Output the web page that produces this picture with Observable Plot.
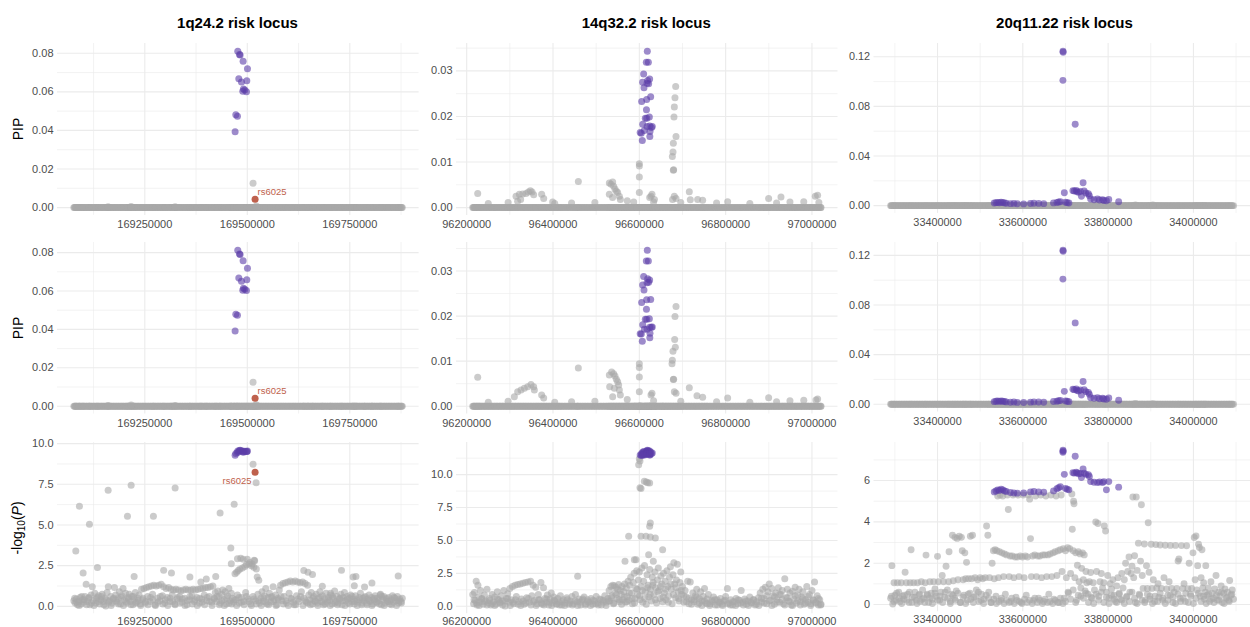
<!DOCTYPE html>
<html>
<head>
<meta charset="utf-8">
<script src="https://cdn.jsdelivr.net/npm/d3@7"></script>
<script src="https://cdn.jsdelivr.net/npm/@observablehq/plot@0.6"></script>
<style>
  html, body { margin: 0; padding: 0; background: #fff; }
  body { width: 1250px; height: 627px; overflow: hidden; font-family: "Liberation Sans", Arial, sans-serif; }
  #root { position: relative; width: 1250px; height: 627px; overflow: hidden; }
  .panel { position: absolute; }
  .panel svg { overflow: visible; }
  .title { position: absolute; font-weight: bold; font-size: 15px; color: #000; white-space: nowrap; transform: translate(-50%, -50%); }
  .ylab { position: absolute; font-size: 14px; color: #000; white-space: nowrap; transform: translate(-50%, -50%) rotate(-90deg); }
  .ylab sub { font-size: 10px; vertical-align: -3px; }
</style>
</head>
<body>
<div id="root"></div>
<script>
// ================= DATA (positions in kb, converted to bp when plotting) =================
const rowLabels = ["PIP", "PIP", "-log10(P)"];

// ---------- 1q24.2 ----------
const locus1Title = "1q24.2 risk locus";
const locus1XDomain = [169037100, 169919000];
const locus1XTicks = [169250000, 169500000, 169750000];
const locus1YTicksPip = [0, 0.02, 0.04, 0.06, 0.08];
const locus1YTicksP = [0, 2.5, 5, 7.5, 10];
// SNPs outside the credible set: [kb, -log10(P)]
const locus1Snps = [
[169077,0.35],[169080,0.2],[169083,0.45],[169086,0.1],[169089,0.3],[169092,0.55],[169095,0.15],[169098,0.4],[169101,0.25],[169104,0.6],
[169107,1.35],[169110,0.3],[169113,0.5],[169116,0.1],[169119,0.7],[169122,1.2],[169125,0.35],[169128,0.8],[169131,0.2],[169134,0.55],
[169137,0.65],[169140,0.15],[169143,0.4],[169146,0.75],[169149,0.3],[169152,0.5],[169155,0.02],[169158,0.85],[169161,1.2],[169164,0.35],
[169167,0.6],[169170,0.2],[169173,0.45],[169176,1.15],[169179,0.7],[169182,0.25],[169185,0.5],[169188,0.9],[169191,0.15],[169194,0.65],
[169197,1.1],[169200,0.4],[169203,0.8],[169206,0.2],[169209,0.55],[169212,0.75],[169215,0.3],[169218,0.6],[169221,0.1],[169224,0.45],
[169227,0.85],[169230,0.25],[169233,0.5],[169236,0.7],[169239,0.15],
[169242,1.05],[169245,0.4],[169248,1.1],[169251,0.2],[169254,1.15],[169257,0.6],[169260,1.2],[169263,0.3],[169266,1.25],[169269,0.75],
[169272,1.3],[169275,0.1],[169278,1.25],[169281,0.5],[169284,1.3],[169287,0.35],[169290,1.35],[169293,0.65],[169296,1.2],[169299,0.2],
[169302,1.1],[169305,0.55],[169308,1.15],[169311,0.3],[169314,1.05],[169317,0.7],[169320,1.0],[169323,0.15],[169326,1.05],[169329,0.45],
[169332,1.0],[169335,0.6],[169338,0.95],[169341,0.25],[169344,1.0],[169347,0.5],[169350,1.05],[169353,0.1],[169356,1.0],[169359,0.4],
[169362,1.0],[169365,0.65],[169368,1.05],[169371,0.3],[169374,1.0],[169377,0.55],[169380,1.05],[169383,0.2],[169386,1.1],[169389,0.45],
[169392,1.1],[169395,0.7],[169398,1.15],[169401,0.35],[169404,1.15],[169407,0.6],[169410,1.2],[169413,0.25],[169416,1.25],[169419,0.5],
[169422,0.85],[169425,0.3],[169428,0.95],[169431,0.6],[169434,0.2],[169437,0.75],[169440,1.0],[169443,0.4],[169446,0.9],[169449,0.15],
[169452,0.65],[169455,1.1],[169458,0.35],[169461,0.8],[169464,0.5],[169467,0.25],
[169470,2.0],[169472,0.4],[169474,2.1],[169476,0.7],[169478,2.2],[169480,0.2],[169482,2.3],[169484,2.95],[169486,0.55],[169488,2.35],
[169490,2.9],[169492,0.3],[169494,2.45],[169496,0.85],[169498,2.55],[169500,2.9],[169502,0.45],[169504,2.6],[169506,2.7],[169508,0.15],
[169510,2.5],[169512,2.6],[169514,0.6],[169516,2.4],[169518,2.8],[169520,0.35],[169522,2.3],[169524,1.8],[169526,0.75],[169528,1.6],[169530,0.2],
[169533,0.5],[169536,0.9],[169539,0.3],[169542,0.65],[169545,1.1],[169548,0.15],[169551,0.55],[169554,0.8],[169557,0.25],[169560,0.6],
[169563,1.2],[169566,0.4],[169569,0.7],[169572,0.1],[169575,0.5],[169578,1.0],
[169581,1.3],[169584,0.35],[169587,1.4],[169590,0.6],[169593,1.45],[169596,0.2],[169599,1.5],[169602,0.8],[169605,1.55],[169608,0.45],
[169611,1.5],[169614,0.1],[169617,1.55],[169620,0.65],[169623,1.5],[169626,0.3],[169629,1.45],[169632,0.9],[169635,1.5],[169638,0.5],
[169641,1.4],[169644,0.25],[169647,1.3],[169650,0.7],
[169653,0.4],[169656,0.85],[169659,0.15],[169662,0.6],[169665,0.35],[169668,0.75],[169671,0.2],[169674,0.5],[169677,0.9],[169680,0.3],
[169683,0.65],[169686,0.1],[169689,0.45],[169692,0.8],[169695,0.25],[169698,0.55],[169701,0.35],[169704,0.7],[169707,0.15],[169710,0.5],
[169713,0.95],[169716,0.3],[169719,0.6],[169722,0.2],[169725,0.45],[169728,0.75],[169731,0.1],[169734,0.55],[169737,0.85],[169740,0.35],
[169743,0.6],[169746,0.2],[169749,0.5],[169752,0.7],[169755,0.3],[169758,0.45],[169761,0.15],[169764,0.65],[169767,0.4],[169770,0.25],
[169773,0.55],[169776,0.8],[169779,0.1],[169782,0.5],[169785,0.35],[169788,0.6],[169791,0.2],[169794,0.45],[169797,0.7],[169800,0.3],
[169803,0.55],[169806,0.15],[169809,0.4],[169812,0.65],[169815,0.25],[169818,0.5],[169821,0.35],[169824,0.7],[169827,0.1],[169830,0.45],
[169833,0.6],[169836,0.2],[169839,0.5],[169842,0.3],[169845,0.55],[169848,0.15],[169851,0.4],[169854,0.65],[169857,0.25],[169860,0.5],
[169863,0.35],[169866,0.6],[169869,0.2],[169872,0.45],[169875,0.3],[169878,0.5],
[169081.7,3.4],[169090.6,6.15],[169099.6,2.05],[169115,5.04],[169134.5,2.38],[169160.6,7.13],[169207.7,5.53],[169216.7,7.44],[169224,1.84],
[169271,5.53],[169296,2.21],[169315,2.05],[169324,7.27],[169360,1.8],[169386.6,1.5],[169400,1.68],[169423,1.84],[169433.7,5.74],
[169459.8,3.59],[169468,6.27],[169461,2.62],[169476,2.93],[169516.7,2.83],[169514,8.73],[169521.5,7.6],[169637.8,2.2],[169648,2.1],[169659,1.95],
[169683,1.23],[169703,0.8],[169729.7,2.21],[169758,1.8],[169765,1.84],[169761,1.27],[169786,1.19],[169804,1.43],[169825,0.74],[169868,1.86]
];
// further weakly associated SNPs of the dense lower band: [kb, -log10(P)]
const locus1SnpsLow = [
[169079,0.5],[169084,0.25],[169090,0.05],[169096,0.6],[169102,0.4],[169108,0.1],[169114,0.55],[169120,0.2],[169126,0.05],[169132,0.45],
[169138,0.3],[169144,0.6],[169150,0.1],[169156,0.4],[169162,0.25],[169168,0.05],[169174,0.5],[169180,0.35],[169186,0.15],[169192,0.55],
[169198,0.05],[169204,0.3],[169210,0.45],[169216,0.1],[169222,0.6],[169228,0.2],[169234,0.35],[169240,0.05],[169246,0.5],[169252,0.3],
[169258,0.1],[169264,0.55],[169270,0.4],[169276,0.05],[169282,0.25],[169288,0.6],[169294,0.15],[169300,0.4],[169306,0.05],[169312,0.5],
[169318,0.3],[169324,0.1],[169330,0.55],[169336,0.2],[169342,0.45],[169348,0.05],[169354,0.35],[169360,0.6],[169366,0.15],[169372,0.4],
[169378,0.05],[169384,0.5],[169390,0.25],[169396,0.1],[169402,0.55],[169408,0.3],[169414,0.05],[169420,0.45],[169426,0.6],[169432,0.1],
[169438,0.35],[169444,0.05],[169450,0.5],[169456,0.2],[169462,0.15],[169468,0.4],[169474,0.05],[169480,0.55],[169486,0.25],[169492,0.1],
[169498,0.6],[169504,0.3],[169510,0.05],[169516,0.45],[169522,0.15],[169528,0.35],[169534,0.05],[169540,0.5],[169546,0.25],[169552,0.1],
[169558,0.55],[169564,0.3],[169570,0.05],[169576,0.4],[169582,0.6],[169588,0.15],[169594,0.35],[169600,0.05],[169606,0.5],[169612,0.25],
[169618,0.1],[169624,0.45],[169630,0.6],[169636,0.05],[169642,0.35],[169648,0.2],[169654,0.1],[169660,0.5],[169666,0.3],[169672,0.05],
[169678,0.55],[169684,0.25],[169690,0.15],[169696,0.4],[169702,0.05],[169708,0.6],[169714,0.2],[169720,0.1],[169726,0.5],[169732,0.35],
[169738,0.05],[169744,0.45],[169750,0.15],[169756,0.6],[169762,0.3],[169768,0.05],[169774,0.4],[169780,0.2],[169786,0.55],[169792,0.1],
[169798,0.35],[169804,0.05],[169810,0.5],[169816,0.25],[169822,0.15],[169828,0.6],[169834,0.05],[169840,0.4],[169846,0.3],[169852,0.1],
[169858,0.55],[169864,0.05],[169870,0.35],[169876,0.2]
];
// non-zero PIPs of SNPs outside the credible set: [kb, PIP]
const locus1PipA = [[169514,0.0126],[169160.6,0.0004],[169216.7,0.0006],[169324,0.0004],[169522,0.0008]];
const locus1PipB = [[169514,0.0125],[169160.6,0.0004],[169216.7,0.0006],[169324,0.0004],[169522,0.0008]];
// credible-set SNPs
const locus1CsPos  = [169476.8,169481.0,169482.5,169489.8,169500.4,169479.3,169485.8,169498.8,169490.6,169493.9,169489.0,169498.0,169472.0,169476.0,169470.3];
const locus1CsPipA = [0.0810,0.0793,0.0791,0.0758,0.0719,0.0668,0.0651,0.0658,0.0615,0.0610,0.0603,0.0601,0.0481,0.0474,0.0393];
const locus1CsPipB = [0.0812,0.0793,0.0790,0.0758,0.0718,0.0668,0.0651,0.0659,0.0614,0.0609,0.0604,0.0602,0.0479,0.0474,0.0392];
const locus1CsLogP = [9.55,9.58,9.59,9.53,9.55,9.50,9.56,9.52,9.47,9.53,9.50,9.52,9.40,9.45,9.28];
// highlighted variant
const locus1LeadName = "rs6025";
const locus1LeadKb = 169519;
const locus1LeadVals = [0.0043, 0.0041, 8.24]; // PIP A, PIP B, -log10(P)

// ---------- 14q32.2 ----------
const locus2Title = "14q32.2 risk locus";
const locus2XDomain = [96176400, 97060300];
const locus2XTicks = [96200000, 96400000, 96600000, 96800000, 97000000];
const locus2YTicksPip = [0, 0.01, 0.02, 0.03];
const locus2YTicksP = [0, 2.5, 5, 7.5, 10];
const locus2Snps = [
[96214,0.9],[96216,0.2],[96218,1.05],[96220,0.45],[96222,1.9],[96224,0.1],[96226,1.6],[96228,0.7],[96230,0.3],[96232,1.2],
[96235,0.55],[96238,0.15],[96241,0.85],[96244,0.4],[96247,1.3],[96250,0.25],[96253,0.6],[96256,0.1],[96259,0.9],
[96262,0.35],[96265,0.7],[96268,0.15],[96271,1.1],[96274,0.5],[96277,0.25],[96280,0.8],[96283,0.4],[96286,1.2],[96289,0.02],
[96292,0.6],[96295,0.95],[96298,0.3],
[96300,1.35],[96303,0.5],[96306,1.5],[96309,0.2],[96312,1.6],[96315,0.75],[96318,1.65],[96321,0.35],[96324,1.7],[96327,0.55],
[96330,1.75],[96333,0.15],[96336,1.8],[96339,0.65],[96342,1.85],[96345,0.3],[96348,1.9],[96351,0.8],[96354,1.6],[96357,0.45],[96360,1.45],
[96363,0.2],[96366,0.9],[96369,0.5],[96372,1.8],[96375,0.15],[96378,1.4],[96381,0.6],[96384,0.3],[96387,0.85],[96390,0.1],
[96393,0.55],[96396,1.0],[96399,0.25],[96402,0.7],[96405,0.4],[96408,0.15],[96411,0.6],[96414,0.3],[96417,0.8],
[96420,0.1],[96424,0.5],[96428,0.25],[96432,0.65],[96436,0.15],[96440,0.4],[96444,0.75],[96448,0.2],[96452,0.9],[96456,0.35],
[96460,0.55],[96464,0.1],[96468,0.45],[96472,0.7],[96476,0.2],[96480,0.5],[96484,0.3],[96488,0.6],[96492,0.15],[96496,0.4],
[96500,0.75],[96504,0.25],[96508,0.55],[96512,0.1],[96516,0.45],[96520,0.8],[96524,0.3],[96527,0.6],
[96530,1.2],[96532,0.4],[96534,1.5],[96536,0.8],[96538,1.6],[96540,0.2],[96542,1.55],[96544,1.0],[96546,1.45],[96548,0.6],
[96550,1.3],[96552,1.65],[96554,0.35],[96556,1.2],[96558,0.9],[96560,1.5],[96562,0.5],[96564,1.1],[96566,1.7],[96568,0.3],
[96570,1.4],[96572,0.75],[96574,1.9],[96576,0.45],[96578,1.6],[96580,2.2],[96582,1.0],[96584,0.2],[96586,1.8],[96588,2.5],
[96590,0.6],[96592,1.35],[96594,2.7],[96596,0.9],[96598,2.0],
[96600,2.6],[96602,0.5],[96604,1.5],[96606,2.9],[96608,0.3],[96610,1.9],[96612,3.1],[96614,1.1],[96616,0.15],[96618,2.4],
[96620,1.6],[96622,0.7],[96624,2.8],[96626,1.3],[96628,0.4],[96630,2.2],[96632,1.8],[96634,0.9],[96636,2.6],[96638,1.4],
[96640,0.25],[96642,2.0],[96644,2.9],[96646,1.2],[96648,0.6],[96650,2.3],[96652,1.7],[96654,0.35],[96656,2.5],[96658,1.0],
[96660,1.9],[96662,0.5],[96664,2.7],[96666,1.5],[96668,0.8],[96670,2.2],[96672,3.0],[96674,1.3],[96676,0.2],[96678,2.4],
[96680,3.3],[96682,1.7],[96684,0.65],[96686,2.0],[96688,3.2],[96690,1.1],[96692,0.4],[96694,1.8],[96696,2.6],[96698,0.9],
[96700,1.5],[96703,0.3],[96706,1.2],[96709,0.7],[96712,1.9],[96715,0.2],[96718,1.85],[96721,0.5],[96724,1.0],[96727,0.35],
[96730,0.8],[96733,1.3],[96736,0.15],[96739,0.6],[96742,1.1],[96745,0.4],[96748,0.75],[96751,1.35],[96754,0.25],[96757,0.55],
[96760,0.9],[96764,0.2],[96768,0.45],[96772,0.7],[96776,0.1],[96780,0.5],[96784,0.3],[96788,0.6],[96792,0.15],[96796,0.4],
[96800,0.75],[96804,1.35],[96808,0.25],[96812,0.5],[96816,0.1],[96820,0.35],[96824,0.6],[96828,0.2],[96832,0.45],[96836,1.2],
[96840,0.3],[96844,0.55],[96848,0.15],[96852,0.4],[96856,0.7],[96860,0.25],[96864,0.5],[96868,0.1],[96872,0.35],[96876,0.65],
[96880,1.0],[96883,0.3],[96886,1.3],[96889,0.6],[96892,1.45],[96895,0.2],[96898,1.1],[96901,1.7],[96904,0.45],[96907,1.35],
[96910,0.8],[96913,0.15],[96916,1.0],[96919,0.5],[96922,1.4],[96925,0.3],[96928,0.9],[96931,1.2],[96934,0.2],[96937,2.1],
[96940,0.65],[96943,1.3],[96946,0.4],[96949,1.0],[96952,0.1],[96955,1.15],[96958,0.55],[96961,1.45],[96964,0.25],[96967,0.85],
[96970,1.3],[96973,0.35],[96976,0.7],[96979,1.1],[96982,0.15],[96985,0.5],[96988,1.5],[96991,0.3],[96994,0.9],[96997,0.2],
[97000,1.2],[97003,0.45],[97006,1.85],[97009,0.25],[97012,0.8],[97015,0.1],[97018,0.5],[97021,0.15],
[96600,11.2],[96598.5,10.76],[96601.5,11.04],[96601.5,9.0],[96603.9,8.94],[96611.6,9.49],[96616.2,9.44],[96619.3,9.39],[96623.9,9.37],
[96625.5,6.33],[96623.9,6.08],[96575.3,5.32],[96603.9,5.32],[96615.4,5.32],[96625.5,5.27],[96637.1,5.19],[96654,4.3],[96621.6,3.92],
[96566.8,3.42],[96588.4,3.54],[96592.3,3.54],[96632.4,3.42],[96457.1,2.28]
];
const locus2SnpsLow = [
[96217,0.5],[96223,0.25],[96229,0.05],[96235,0.6],[96241,0.35],[96247,0.1],[96253,0.45],[96259,0.2],[96265,0.05],[96271,0.55],
[96277,0.3],[96283,0.1],[96289,0.4],[96295,0.6],[96301,0.05],[96307,0.3],[96313,0.5],[96319,0.15],[96325,0.05],[96331,0.4],
[96337,0.25],[96343,0.6],[96349,0.1],[96355,0.35],[96361,0.05],[96367,0.5],[96373,0.25],[96379,0.1],[96385,0.55],[96391,0.3],
[96397,0.05],[96403,0.45],[96409,0.2],[96415,0.1],[96421,0.35],[96427,0.05],[96433,0.5],[96439,0.25],[96445,0.1],[96451,0.4],
[96457,0.05],[96463,0.3],[96469,0.55],[96475,0.1],[96481,0.35],[96487,0.05],[96493,0.45],[96499,0.2],[96505,0.1],[96511,0.5],
[96517,0.3],[96523,0.05],[96529,0.4],[96535,0.65],[96541,0.25],[96547,0.9],[96553,0.5],[96559,0.15],[96565,0.7],[96571,0.35],
[96577,1.0],[96583,0.6],[96589,0.25],[96595,1.3],[96601,0.8],[96607,1.2],[96613,0.6],[96619,1.4],[96625,0.9],[96631,1.6],
[96637,0.5],[96643,1.1],[96649,1.5],[96655,0.7],[96661,1.3],[96667,0.3],[96673,1.7],[96679,0.9],[96685,1.4],[96691,0.6],
[96697,1.2],[96703,0.8],[96709,0.35],[96715,0.6],[96721,0.15],[96727,0.5],[96733,0.7],[96739,0.25],[96745,0.05],[96751,0.4],
[96757,0.2],[96763,0.05],[96769,0.35],[96775,0.5],[96781,0.1],[96787,0.3],[96793,0.05],[96799,0.45],[96805,0.2],[96811,0.1],
[96817,0.35],[96823,0.05],[96829,0.5],[96835,0.25],[96841,0.1],[96847,0.4],[96853,0.05],[96859,0.3],[96865,0.5],[96871,0.15],
[96877,0.05],[96883,0.6],[96889,0.25],[96895,0.8],[96901,0.4],[96907,0.05],[96913,0.7],[96919,0.3],[96925,0.9],[96931,0.5],
[96937,0.1],[96943,0.65],[96949,0.35],[96955,0.05],[96961,0.8],[96967,0.4],[96973,0.1],[96979,0.6],[96985,0.25],[96991,0.75],
[96997,0.05],[97003,0.5],[97009,0.3],[97015,0.6],[97020,0.1]
];
const locus2PipA = [
[96684.2,0.0266],[96682.6,0.0241],[96681.1,0.0221],[96680.3,0.0199],[96685,0.0156],[96678.8,0.0141],[96678,0.0122],[96676.5,0.0112],
[96679.5,0.0083],[96678.8,0.0082],[96600,0.0096],[96600,0.0091],[96600,0.0067],[96600,0.0033],[96458.7,0.0057],
[96530.5,0.0054],[96534.4,0.0051],[96538.2,0.0056],[96540.5,0.0047],[96543.6,0.0041],[96546.7,0.0036],[96549.8,0.0033],[96530.5,0.0029],
[96553.7,0.0025],[96556,0.0018],[96538,0.0022],
[96314.3,0.0025],[96322,0.0029],[96329.7,0.003],[96337.4,0.0031],[96342.9,0.0034],[96347.5,0.0037],[96351.4,0.0034],[96355.2,0.0028],
[96325,0.0018],[96318,0.0014],[96225.5,0.0031],[96373.7,0.0029],[96378.4,0.002],[96399.2,0.0012],
[96715.8,0.0035],[96718.1,0.0017],[96735.1,0.0018],[96746.7,0.0016],[96804.6,0.0013],
[96899.6,0.002],[96928.2,0.0023],[97007.7,0.0025],[97013.1,0.0027],
[96627,0.0025],[96629.3,0.0029],[96624,0.0022],[96635,0.0018],[96681,0.0025],[96685,0.002],[96677,0.0018],
[96250,0.0009],[96296,0.0011],[96404,0.0009],[96443,0.001],[96497,0.0011],[96572,0.0015],[96587,0.0012],[96633,0.0012],
[96696,0.0011],[96779,0.001],[96856,0.0009],[96918,0.001],[96949,0.0012],[97016,0.0011],[96981,0.0013]
];
const locus2PipB = [
[96685,0.0221],[96682.6,0.0199],[96681.9,0.0148],[96683.4,0.0131],[96678,0.0122],[96676.5,0.0102],[96675.7,0.0094],[96678.8,0.0059],
[96679.5,0.006],[96681.1,0.0032],[96685,0.0029],[96600,0.0094],[96600,0.0086],[96600,0.0065],[96600,0.0032],[96458.7,0.0085],
[96530.5,0.0069],[96535.9,0.0076],[96540.5,0.0072],[96543.6,0.0067],[96546.7,0.006],[96549.8,0.0054],[96552.1,0.0047],[96531.3,0.0043],
[96542.1,0.004],[96553.7,0.0036],[96538.2,0.0021],[96556,0.0025],
[96310.4,0.0021],[96318.1,0.0032],[96325.9,0.0036],[96333.6,0.004],[96341.3,0.0043],[96349,0.0048],[96355.2,0.0043],[96356.8,0.0036],
[96373.7,0.0025],[96378.4,0.0018],[96225.5,0.0064],[96715.8,0.0041],[96733.6,0.0023],[96746.7,0.002],[96804.6,0.0018],
[96899.6,0.0019],[97009.3,0.0014],[97013.1,0.0016],[96627,0.0025],[96629.3,0.0029],
[96250,0.0009],[96296,0.0011],[96404,0.0009],[96443,0.001],[96497,0.0011],[96572,0.0015],[96633,0.0012],
[96696,0.0011],[96779,0.001],[96856,0.0009],[96918,0.001],[96949,0.0012],[96981,0.0013]
];
const locus2CsPos  = [96618.5,96616.2,96620.9,96610.0,96607.7,96619.3,96623.9,96617.8,96621.6,96610.8,96605.4,96617.0,96626.3,96616.5,96613.9,
                      96617.3,96623.2,96607.9,96618.0,96624.1,96611.6,96604.6,96624.7,96624.3,96606.9,96628.0,96630.0,96602.0];
const locus2CsPipA = [0.0343,0.0319,0.0319,0.0293,0.0275,0.0279,0.0282,0.0273,0.0272,0.0263,0.0233,0.0237,0.0243,0.0215,0.0196,
                      0.0196,0.0199,0.0183,0.0178,0.0179,0.0169,0.0163,0.0167,0.0156,0.0147,0.0176,0.0178,0.0165];
const locus2CsPipB = [0.0346,0.0322,0.0322,0.0288,0.0269,0.0283,0.0280,0.0274,0.0275,0.0258,0.0230,0.0236,0.0237,0.0215,0.0193,
                      0.0193,0.0194,0.0181,0.0171,0.0175,0.0171,0.0160,0.0162,0.0152,0.0144,0.0175,0.0176,0.0161];
const locus2CsLogP = [11.85,11.80,11.82,11.75,11.70,11.78,11.80,11.76,11.74,11.68,11.60,11.65,11.70,11.62,11.55,
                      11.58,11.60,11.52,11.55,11.57,11.50,11.48,11.52,11.50,11.47,11.60,11.65,11.50];

// ---------- 20q11.22 ----------
const locus3Title = "20q11.22 risk locus";
const locus3XDomain = [33251000, 34133800];
const locus3XTicks = [33400000, 33600000, 33800000, 34000000];
const locus3YTicksPip = [0, 0.04, 0.08, 0.12];
const locus3YTicksP = [0, 2, 4, 6];
const locus3Snps = [
[33290,0.3],[33293,1.88],[33295,0.02],[33298,1.05],[33300,0.45],[33303,0.2],[33306,1.05],[33309,0.6],[33312,0.15],[33315,1.05],
[33318,0.4],[33321,0.25],[33324,1.56],[33327,1.05],[33330,0.5],[33333,0.1],[33336,1.05],[33338,2.65],[33341,0.35],[33344,1.05],
[33347,0.6],[33350,0.2],[33353,1.05],[33356,0.45],[33359,0.15],[33362,1.1],[33365,0.7],[33368,0.3],[33371,1.05],[33373,2.39],
[33376,0.5],[33379,0.1],[33382,1.1],[33385,0.55],[33388,0.25],[33391,1.1],[33394,0.75],[33397,0.4],[33400,2.33],[33402,1.1],
[33405,0.2],[33408,0.6],[33411,1.4],[33414,1.1],[33417,0.35],[33420,1.85],[33423,0.7],[33426,1.1],[33427,2.55],[33430,0.15],[33433,0.5],
[33435,3.35],[33437,1.15],[33440,0.3],[33441,3.25],[33444,0.65],[33446,3.2],[33448,1.2],[33451,3.3],[33453,0.1],[33456,3.25],
[33458,2.6],[33460,1.2],[33462,0.45],[33464,2.5],[33466,1.25],[33468,2.04],[33470,0.2],[33473,1.25],[33476,0.55],[33477,3.3],
[33480,1.25],[33482,3.35],[33485,0.35],[33488,1.3],[33491,0.7],[33494,1.2],[33497,0.15],[33500,1.3],[33503,0.5],[33506,1.25],
[33509,0.25],[33512,1.3],[33515,3.8],[33518,3.35],[33520,0.6],
[33522,1.3],[33525,0.1],[33528,2.0],[33531,2.6],[33533,1.25],[33535,2.65],[33537,0.4],[33539,2.6],[33541,5.25],[33543,1.3],
[33545,2.55],[33547,5.3],[33549,0.2],[33551,2.5],[33553,5.25],[33555,1.35],[33557,2.45],[33559,0.5],[33562,2.4],[33564,5.3],
[33566,4.6],[33568,1.35],[33570,2.35],[33572,0.15],[33575,2.35],[33577,5.3],[33579,1.3],[33582,2.3],[33584,0.35],[33587,2.3],
[33589,5.3],[33591,1.35],[33594,2.35],[33596,0.1],[33599,2.3],[33601,5.3],[33603,1.3],[33606,2.35],[33608,0.45],[33611,2.3],
[33613,5.3],[33616,5.1],[33618,3.19],[33620,1.35],[33623,2.35],[33625,0.2],[33628,2.4],[33630,5.25],[33632,1.35],[33635,2.35],
[33637,0.3],[33640,2.35],[33642,5.3],[33644,1.3],[33647,2.4],[33649,0.15],[33652,2.4],[33654,5.25],[33656,1.35],[33659,2.4],
[33661,0.5],[33664,2.45],[33666,5.3],[33668,1.35],[33671,2.5],[33673,0.25],[33676,2.55],[33678,5.25],[33680,1.4],[33683,2.6],
[33685,0.1],[33688,2.65],[33690,5.3],
[33692,1.6],[33695,2.7],[33697,0.3],[33700,2.6],[33702,1.3],[33705,2.75],[33707,0.55],[33710,2.7],[33712,1.5],[33715,5.35],
[33716,3.64],[33718,2.6],[33719,5.0],[33720,4.88],[33722,1.3],[33724,2.5],[33726,0.2],[33728,1.9],[33730,2.55],[33732,1.1],
[33734,2.45],[33736,0.4],[33738,1.75],[33740,2.5],[33742,1.2],[33744,2.4],[33746,0.65],[33748,1.6],[33750,1.05],
[33753,0.5],[33756,1.1],[33759,1.55],[33762,0.3],[33765,1.05],[33768,0.7],[33771,3.99],[33773,1.6],[33776,3.92],[33778,0.4],
[33781,1.1],[33784,1.5],[33787,0.8],[33790,1.05],[33791,3.8],[33794,3.56],
[33796,0.6],[33799,1.4],[33802,0.3],[33805,1.0],[33808,0.75],[33811,1.2],[33814,0.45],[33817,0.15],[33820,0.9],[33823,1.3],
[33826,0.5],[33829,0.25],[33832,1.5],[33835,0.8],[33838,1.2],[33841,2.0],[33843,0.35],[33846,1.6],[33849,2.3],[33851,0.6],
[33854,1.5],[33856,1.85],[33858,5.2],[33860,1.3],[33862,2.36],[33864,0.1],[33866,5.2],
[33868,1.65],[33871,2.97],[33873,0.5],[33876,2.1],[33878,4.83],[33880,1.4],[33882,0.78],[33885,2.93],[33887,0.2],[33890,1.88],
[33892,0.78],[33894,3.96],[33896,1.56],[33898,0.4],[33901,2.92],[33903,0.78],[33906,1.2],[33909,0.15],[33912,2.9],[33914,0.8],
[33917,1.0],[33919,0.35],
[33922,2.88],[33925,0.78],[33928,0.2],[33931,1.3],[33934,2.87],[33937,0.75],[33940,0.45],[33943,1.1],[33946,2.86],[33949,0.78],
[33952,0.1],[33955,0.6],[33958,2.86],[33961,0.78],[33964,2.1],[33966,2.2],[33969,0.3],[33972,2.85],[33975,0.78],[33978,1.0],
[33981,0.15],[33984,2.84],[33987,0.76],[33990,2.0],[33993,0.5],[33996,0.78],
[33999,2.5],[34002,3.24],[34004,1.2],[34006,3.32],[34008,0.7],[34010,1.88],[34012,2.92],[34014,2.76],[34016,0.4],[34018,1.3],
[34020,2.65],[34022,0.8],[34024,1.05],[34026,0.25],[34028,0.6],
[34029,1.88],[34032,0.45],[34035,0.8],[34038,0.15],[34041,1.1],[34044,0.55],[34047,0.3],[34050,0.75],[34053,1.4],[34056,0.2],
[34059,0.6],[34062,0.4],[34065,0.9],[34068,0.1],[34071,0.55],[34074,0.75],[34077,0.3],[34080,0.6],[34083,0.2],[34085,1.16],
[34088,0.45],[34091,0.7],[34094,0.25]
];
const locus3SnpsLow = [
[33292,0.4],[33298,0.15],[33304,0.55],[33310,0.3],[33316,0.05],[33322,0.45],[33328,0.2],[33334,0.6],[33340,0.1],[33346,0.35],
[33352,0.05],[33358,0.5],[33364,0.25],[33370,0.1],[33376,0.45],[33382,0.3],[33388,0.05],[33394,0.55],[33400,0.2],[33406,0.4],
[33412,0.1],[33418,0.6],[33424,0.3],[33430,0.05],[33436,0.45],[33442,0.2],[33448,0.55],[33454,0.1],[33460,0.35],[33466,0.05],
[33472,0.5],[33478,0.25],[33484,0.1],[33490,0.4],[33496,0.6],[33502,0.2],[33508,0.05],[33514,0.45],[33520,0.3],[33526,0.1],
[33532,0.25],[33538,0.05],[33544,0.15],[33550,0.3],[33556,0.05],[33562,0.2],[33568,0.1],[33574,0.3],[33580,0.05],[33586,0.2],
[33592,0.15],[33598,0.05],[33604,0.25],[33610,0.1],[33616,0.2],[33622,0.05],[33628,0.3],[33634,0.1],[33640,0.2],[33646,0.05],
[33652,0.25],[33658,0.1],[33664,0.15],[33670,0.05],[33676,0.2],[33682,0.1],[33688,0.3],[33694,0.05],[33700,0.15],[33706,0.6],
[33712,0.25],[33718,0.7],[33724,0.1],[33730,0.45],[33736,0.8],[33742,0.3],[33748,0.55],[33754,0.1],[33760,0.35],[33766,0.05],
[33772,0.5],[33778,0.2],[33784,0.6],[33790,0.1],[33796,0.35],[33802,0.05],[33808,0.45],[33814,0.25],[33820,0.1],[33826,0.55],
[33832,0.2],[33838,0.05],[33844,0.4],[33850,0.15],[33856,0.6],[33862,0.3],[33868,0.05],[33874,0.45],[33880,0.2],[33886,0.1],
[33892,0.5],[33898,0.25],[33904,0.05],[33910,0.4],[33916,0.15],[33922,0.55],[33928,0.3],[33934,0.05],[33940,0.2],[33946,0.45],
[33952,0.35],[33958,0.05],[33964,0.5],[33970,0.15],[33976,0.3],[33982,0.55],[33988,0.1],[33994,0.4],[34000,0.05],[34006,0.3],
[34012,0.55],[34018,0.15],[34024,0.4],[34030,0.05],[34036,0.5],[34042,0.25],[34048,0.1],[34054,0.45],[34060,0.2],[34066,0.6],
[34072,0.05],[34078,0.35],[34084,0.15],[34090,0.5]
];
const locus3PipA = [[33864,0.0006],[33905,0.0005]];
const locus3PipB = [[33864,0.0006],[33905,0.0005]];
const locus3CsPos  = [33694.2,33694.5,33694.0,33722.8,33741.3,33697.3,33717.5,33720.6,33725.2,33730.6,33743.8,33747.7,33727.0,33735.0,
                      33737.4,33753.7,33756.0,33759,33767,33775,33780,33787,33790,33801.5,33796,33824.7,
                      33533,33537,33541,33545,33549,33553,33557,33561,33571,33579,33587,33602,33618,33626,33637,33649,33672,33680,33684,33688,33700,33704,33708];
const locus3CsPipA = [0.1245,0.1237,0.101,0.0656,0.0184,0.0104,0.0121,0.0118,0.0123,0.0107,0.0118,0.0102,0.0112,0.0115,
                      0.0075,0.0096,0.0080,0.0053,0.0048,0.0053,0.0045,0.0048,0.0042,0.0050,0.0040,0.0032,
                      0.0021,0.0024,0.0026,0.0023,0.0027,0.0025,0.0022,0.0019,0.0016,0.0018,0.0015,0.0014,0.0017,0.0019,0.0018,0.0016,0.0022,0.0025,0.0029,0.0031,0.0027,0.0024,0.0021];
const locus3CsPipB = [0.1242,0.1234,0.1009,0.0656,0.0183,0.0104,0.0121,0.0118,0.0123,0.0107,0.0118,0.0102,0.0112,0.0115,
                      0.0075,0.0096,0.0080,0.0053,0.0048,0.0053,0.0045,0.0048,0.0042,0.0050,0.0040,0.0032,
                      0.0021,0.0024,0.0026,0.0023,0.0027,0.0025,0.0022,0.0019,0.0016,0.0018,0.0015,0.0014,0.0017,0.0019,0.0018,0.0016,0.0022,0.0025,0.0029,0.0031,0.0027,0.0024,0.0021];
const locus3CsLogP = [7.47,7.42,7.37,7.18,6.56,6.30,6.38,6.36,6.40,6.33,6.35,6.30,6.37,6.34,
                      6.15,6.28,6.20,5.95,5.92,5.90,5.93,5.90,5.95,5.95,5.55,5.68,
                      5.45,5.50,5.55,5.52,5.58,5.55,5.50,5.47,5.42,5.40,5.39,5.40,5.45,5.47,5.45,5.43,5.50,5.60,5.65,5.70,5.62,5.58,5.55];

// ================= BUILD =================
const loci = [
  {title: locus1Title, xDomain: locus1XDomain, xTicks: locus1XTicks, yTicks: [locus1YTicksPip, locus1YTicksPip, locus1YTicksP], pFmt: ".1f",
   snps: locus1Snps.concat(locus1SnpsLow), pipA: locus1PipA, pipB: locus1PipB,
   cs: locus1CsPos.map((kb, i) => ({kb, v: [locus1CsPipA[i], locus1CsPipB[i], locus1CsLogP[i]]})),
   lead: {name: locus1LeadName, kb: locus1LeadKb, v: locus1LeadVals}},
  {title: locus2Title, xDomain: locus2XDomain, xTicks: locus2XTicks, yTicks: [locus2YTicksPip, locus2YTicksPip, locus2YTicksP], pFmt: ".1f",
   snps: locus2Snps.concat(locus2SnpsLow), pipA: locus2PipA, pipB: locus2PipB,
   cs: locus2CsPos.map((kb, i) => ({kb, v: [locus2CsPipA[i], locus2CsPipB[i], locus2CsLogP[i]]})),
   lead: null},
  {title: locus3Title, xDomain: locus3XDomain, xTicks: locus3XTicks, yTicks: [locus3YTicksPip, locus3YTicksPip, locus3YTicksP], pFmt: "d",
   snps: locus3Snps.concat(locus3SnpsLow), pipA: locus3PipA, pipB: locus3PipB,
   cs: locus3CsPos.map((kb, i) => ({kb, v: [locus3CsPipA[i], locus3CsPipB[i], locus3CsLogP[i]]})),
   lead: null}
];

const cols = [{l: 56.7, r: 418.3}, {l: 455.5, r: 837}, {l: 874, r: 1255}];
const rows = [{t: 42.7, b: 214.6}, {t: 242.3, b: 413.8}, {t: 442.3, b: 613.6}];
const ML = 44, MB = 26;
const GRID = "#ebebeb";
const GREY = "#a9a9a9", PURPLE = "#5b3da8", RED = "#b8503a";
const R = 3.5;
const root = document.getElementById("root");

function minorTicks(major, dom) {
  const s = major[1] - major[0];
  const out = [];
  for (let v = major[0] - s / 2; v <= dom[1] + 1e-12; v += s) if (v >= dom[0]) out.push(v);
  return out;
}

loci.forEach((L, ci) => {
  const col = cols[ci];
  const w = col.r - col.l;
  const t = document.createElement("div");
  t.className = "title";
  t.textContent = L.title;
  t.style.left = ((col.l + col.r) / 2) + "px";
  t.style.top = "22px";
  root.appendChild(t);

  for (let ri = 0; ri < 3; ri++) {
    const row = rows[ri];
    const h = row.b - row.t;
    let grey;
    if (ri === 2) grey = L.snps.map(([kb, y]) => ({x: kb * 1000, y}));
    else grey = L.snps.map(([kb]) => ({x: kb * 1000, y: 0}))
      .concat((ri === 0 ? L.pipA : L.pipB).map(([kb, y]) => ({x: kb * 1000, y})));
    const purple = L.cs.map(d => ({x: d.kb * 1000, y: d.v[ri]}));
    const lead = L.lead ? [{x: L.lead.kb * 1000, y: L.lead.v[ri], name: L.lead.name}] : [];
    const all = grey.concat(purple, lead).map(d => d.y);
    const lo = d3.min(all), hi = d3.max(all), pad = (hi - lo) * 0.05;
    const yDom = [lo - pad, hi + pad];
    const yTicks = L.yTicks[ri];
    const yFmt = ri === 2 ? d3.format(L.pFmt) : d3.format(".2f");

    const marks = [
      Plot.gridX(minorTicks(L.xTicks, L.xDomain), {stroke: GRID, strokeOpacity: 1, strokeWidth: 0.6}),
      Plot.gridY(minorTicks(yTicks, yDom), {stroke: GRID, strokeOpacity: 1, strokeWidth: 0.6}),
      Plot.gridX(L.xTicks, {stroke: GRID, strokeOpacity: 1, strokeWidth: 1.1}),
      Plot.gridY(yTicks, {stroke: GRID, strokeOpacity: 1, strokeWidth: 1.1}),
      Plot.axisX(L.xTicks, {tickSize: 0, tickPadding: ri === 2 ? 3.5 : 5, tickFormat: d3.format("d"), label: null}),
      Plot.axisY(yTicks, {tickSize: 0, tickPadding: 4, tickFormat: yFmt, label: null}),
      Plot.dot(grey, {x: "x", y: "y", r: R, fill: GREY, fillOpacity: 0.6}),
      Plot.dot(purple, {x: "x", y: "y", r: R, fill: PURPLE, fillOpacity: 0.6})
    ];
    if (lead.length) {
      marks.push(Plot.dot(lead, {x: "x", y: "y", r: R, fill: RED, fillOpacity: 0.9}));
      marks.push(Plot.text(lead, {x: "x", y: "y", text: "name", fill: "#c0624c", fontSize: 9.5,
        textAnchor: ri === 2 ? "end" : "start", dx: ri === 2 ? -3.5 : 2.5, dy: ri === 2 ? 9 : -7.5}));
    }

    const svg = Plot.plot({
      width: w + ML, height: h + MB,
      marginLeft: ML, marginRight: 0, marginTop: 0, marginBottom: MB,
      style: {fontFamily: '"Liberation Sans", Arial, sans-serif', fontSize: "11px", color: "#4d4d4d", background: "transparent", overflow: "visible"},
      x: {domain: L.xDomain},
      y: {domain: yDom},
      marks
    });
    const div = document.createElement("div");
    div.className = "panel";
    div.style.left = (col.l - ML) + "px";
    div.style.top = row.t + "px";
    div.appendChild(svg);
    root.appendChild(div);

    if (ci === 0) {
      const yl = document.createElement("div");
      yl.className = "ylab";
      if (ri === 2) yl.innerHTML = "-log<sub>10</sub>(<i>P</i>)";
      else yl.textContent = rowLabels[ri];
      yl.style.left = "18px";
      yl.style.top = ((row.t + row.b) / 2) + "px";
      root.appendChild(yl);
    }
  }
});
</script>
</body>
</html>
